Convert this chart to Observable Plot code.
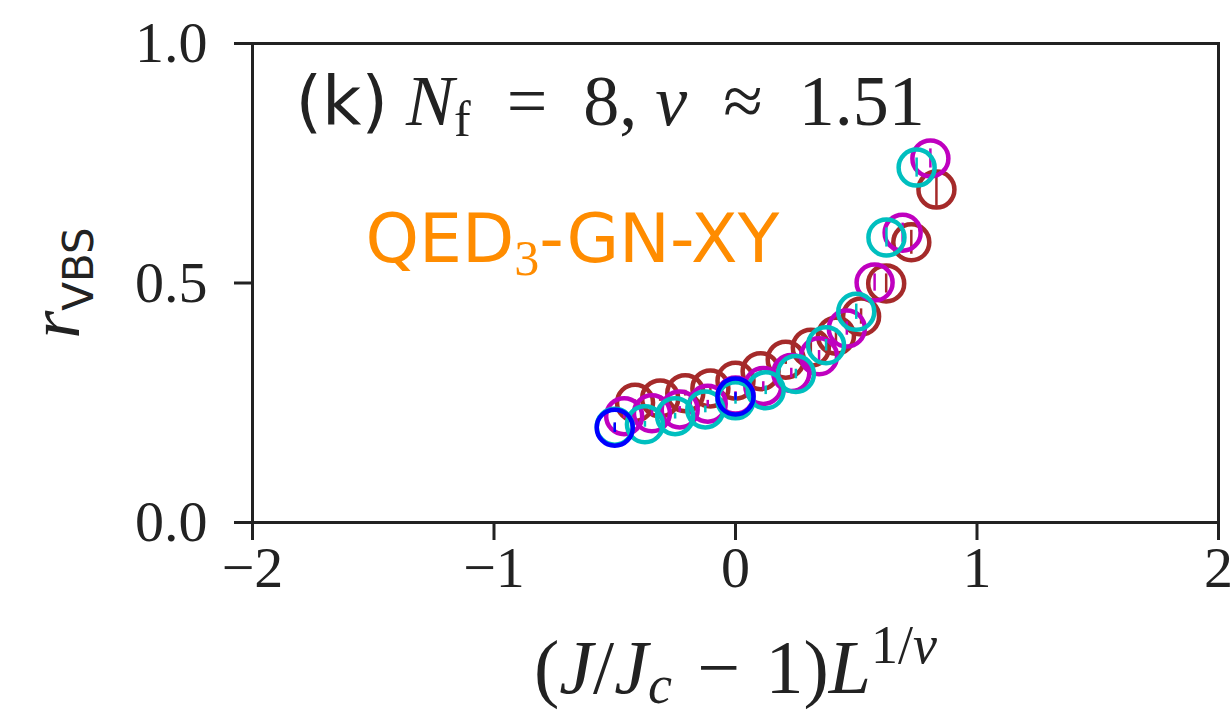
<!DOCTYPE html>
<html><head><meta charset="utf-8">
<script src="https://cdn.jsdelivr.net/npm/d3@7"></script>
<script src="https://cdn.jsdelivr.net/npm/@observablehq/plot@0.6"></script>
<style>body{margin:0;background:#fff;}</style>
</head><body><div id="chart"></div>
<script>
// Tick values
const xTicks = [-2, -1, 0, 1, 2];
const yTicks = [0, 0.5, 1.0];

// Series (drawn in this order)
const seriesNames = ["L1", "L2", "L3", "L4"];
const seriesColors = ["#a52a2a", "#bf00bf", "#00bfbf", "#0000ff"];

const brownX = [-0.416, -0.312, -0.208, -0.104, 0, 0.104, 0.208, 0.312, 0.416, 0.52, 0.624, 0.728, 0.832];
const brownY = [0.250, 0.259, 0.270, 0.280, 0.296, 0.316, 0.340, 0.365, 0.390, 0.430, 0.499, 0.585, 0.695];
const brownE = [0.006, 0.006, 0.006, 0.007, 0.008, 0.009, 0.010, 0.012, 0.014, 0.016, 0.020, 0.025, 0.035];

const magX = [-0.461, -0.346, -0.231, -0.115, 0, 0.115, 0.231, 0.346, 0.461, 0.576, 0.692, 0.807];
const magY = [0.222, 0.228, 0.236, 0.248, 0.265, 0.285, 0.312, 0.347, 0.405, 0.501, 0.605, 0.760];
const magE = [0.005, 0.006, 0.006, 0.007, 0.008, 0.009, 0.010, 0.012, 0.014, 0.018, 0.020, 0.020];

const cyanX = [-0.5, -0.375, -0.25, -0.125, 0, 0.125, 0.25, 0.375, 0.5, 0.625, 0.75];
const cyanY = [0.200, 0.205, 0.222, 0.236, 0.255, 0.276, 0.310, 0.370, 0.440, 0.595, 0.741];
const cyanE = [0.005, 0.006, 0.006, 0.007, 0.008, 0.009, 0.010, 0.012, 0.016, 0.020, 0.020];

const blueX = [-0.5, 0];
const blueY = [0.198, 0.263];
const blueE = [0.010, 0.008];

const seriesX = [brownX, magX, cyanX, blueX];
const seriesY = [brownY, magY, cyanY, blueY];
const seriesE = [brownE, magE, cyanE, blueE];

const rows = seriesNames.map((s, k) => seriesX[k].map((x, i) => ({series: s, x, y: seriesY[k][i], e: seriesE[k][i]})));

const ink = "#222";
const serif = "'Liberation Serif', serif";
const sans = "'DejaVu Sans', sans-serif";

const seriesMarks = rows.flatMap(data => [
  Plot.ruleX(data, {x: "x", y1: d => d.y - d.e, y2: d => d.y + d.e, stroke: "series", strokeWidth: 2.5}),
  Plot.dot(data, {x: "x", y: "y", r: 18, stroke: "series", strokeWidth: 4.5, fill: "none"})
]);

const svg = Plot.plot({
  width: 1230, height: 715,
  marginLeft: 252, marginRight: 12, marginTop: 43, marginBottom: 193,
  x: {domain: [-2, 2]},
  y: {domain: [0, 1]},
  color: {domain: seriesNames, range: seriesColors},
  style: {background: "#fff", color: ink},
  marks: [
    ...seriesMarks,
    Plot.frame({stroke: ink, strokeWidth: 3}),
    Plot.axisX({ticks: xTicks, tickSize: 18, tickPadding: 5, tickFormat: d3.format(".0f"),
      fontSize: 58, fontFamily: serif, strokeWidth: 3, label: null}),
    Plot.axisY({ticks: yTicks, tickSize: 18, tickPadding: 27, tickFormat: d3.format(".1f"),
      fontSize: 58, fontFamily: serif, strokeWidth: 3, label: null}),
    Plot.text(["@title"], {text: d => d, frameAnchor: "top-left", textAnchor: "start", lineAnchor: "middle", dx: 43, dy: 58, fontSize: 72, fontFamily: serif, fill: ink}),
    Plot.text(["@qed"], {text: d => d, frameAnchor: "top-left", textAnchor: "start", lineAnchor: "middle", dx: 113, dy: 197, fontSize: 68, fontFamily: sans, fill: "#ff8c00"}),
    Plot.text(["@xlab"], {text: d => d, frameAnchor: "bottom", textAnchor: "middle", lineAnchor: "middle", dy: 146, fontSize: 76, fontFamily: serif, fill: ink}),
    Plot.text(["@ylab"], {text: d => d, frameAnchor: "left", textAnchor: "middle", lineAnchor: "middle", dx: -197, dy: 0, rotate: -90, fontSize: 72, fontFamily: serif, fill: ink})
  ]
});

function rich(key, parts) {
  const t = d3.select(svg).selectAll("text").filter(function() { return this.textContent === key; });
  t.text(null);
  let shift = 0;
  for (const p of parts) {
    const ts = t.append("tspan").text(p.t);
    const target = p.shift || 0;
    if (target !== shift) { ts.attr("dy", target - shift); shift = target; }
    if (p.i) ts.attr("font-style", "italic");
    if (p.f) ts.attr("font-family", p.f);
    if (p.s) ts.attr("font-size", p.s);
  }
}

const sp = "\u2002";
const sp3 = "\u2004";
rich("@title", [
  {t: "(k)", f: sans, s: 68},
  {t: " "},
  {t: "N", i: true},
  {t: "f", s: 50, shift: 11},
  {t: sp + "=" + sp + "8, "},
  {t: "ν", i: true},
  {t: sp + "≈" + sp + "1.51"}
]);
rich("@qed", [
  {t: "QED"},
  {t: "3", f: serif, s: 50, shift: 13},
  {t: "-GN-XY"}
]);
rich("@xlab", [
  {t: "("},
  {t: "J", i: true},
  {t: "/"},
  {t: "J", i: true},
  {t: "c", i: true, s: 54, shift: 10},
  {t: sp3 + "−" + sp3 + "1)"},
  {t: "L", i: true},
  {t: "1/", s: 54, shift: -30},
  {t: "ν", i: true, s: 54, shift: -30}
]);
rich("@ylab", [
  {t: "r", i: true},
  {t: "VBS", f: sans, s: 42, shift: 14}
]);

document.getElementById("chart").appendChild(svg);
</script>
</body></html>
